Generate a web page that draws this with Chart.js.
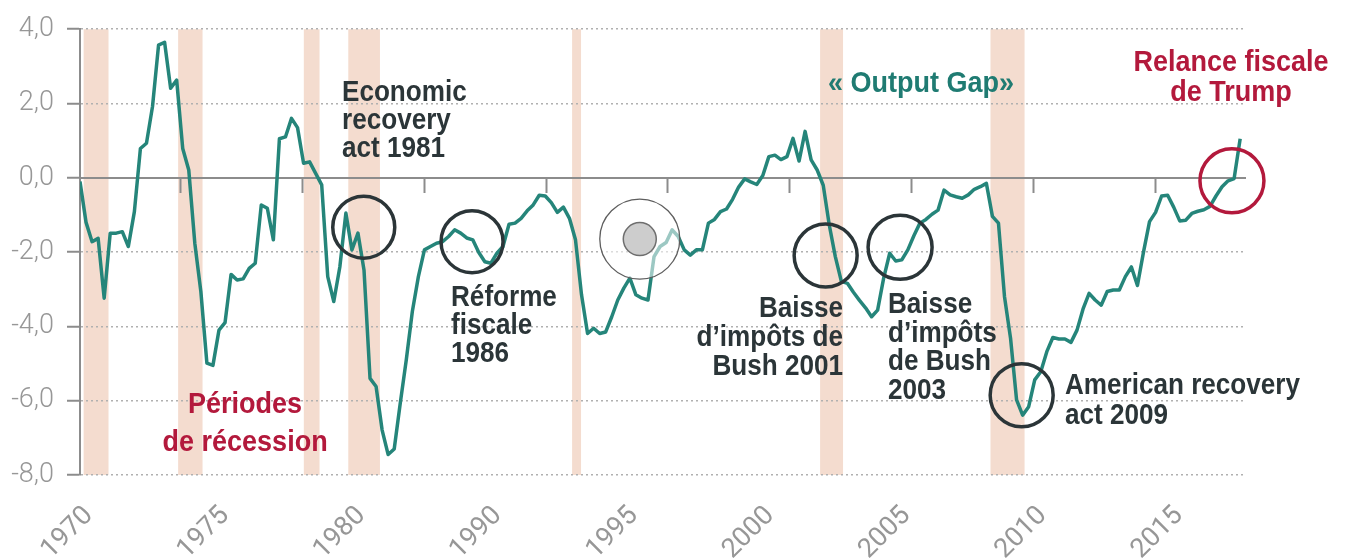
<!DOCTYPE html>
<html>
<head>
<meta charset="utf-8">
<script src="https://cdn.jsdelivr.net/npm/chart.js@4.4.1/dist/chart.umd.min.js"></script>
<style>
  html, body { margin: 0; padding: 0; background: #ffffff; }
  #wrap { width: 1352px; height: 560px; position: relative; }
</style>
</head>
<body>
<div id="wrap"><canvas id="c" width="1352" height="560"></canvas></div>
<script>
// ---- DATA -------------------------------------------------------------
// US output gap (% of potential GDP), quarterly, starting 1970 Q1
const START_YEAR = 1970;
const gap1970s = [-0.1, -1.2, -1.72, -1.63, -3.24, -1.49, -1.49, -1.45, -1.85, -0.91,
                  0.79, 0.93, 1.92, 3.57, 3.65, 2.41, 2.63, 0.79, 0.21, -1.76,
                  -3.06, -4.99, -5.05, -4.1, -3.9, -2.6, -2.75, -2.72, -2.44, -2.3,
                  -0.73, -0.82, -1.67, 1.05, 1.1, 1.6, 1.35, 0.39, 0.43, 0.12];
const gap1980s = [-0.19, -2.66, -3.33, -2.4, -0.95, -1.94, -1.49, -2.48, -5.4, -5.62,
                  -6.79, -7.45, -7.3, -6.07, -4.9, -3.6, -2.66, -1.94, -1.85, -1.76,
                  -1.72, -1.58, -1.4, -1.49, -1.62, -1.67, -2.01, -2.26, -2.3, -2.03,
                  -1.85, -1.25, -1.22, -1.09, -0.89, -0.73, -0.47, -0.49, -0.67, -0.93];
const gap1990s = [-0.79, -1.09, -1.67, -3.15, -4.19, -4.05, -4.19, -4.15, -3.74, -3.29,
                  -2.97, -2.7, -3.15, -3.24, -3.29, -2.12, -1.85, -1.74, -1.4, -1.58,
                  -1.94, -2.08, -1.94, -1.94, -1.22, -1.12, -0.91, -0.84, -0.58, -0.25,
                  -0.03, -0.11, -0.18, 0.06, 0.57, 0.61, 0.49, 0.57, 1.06, 0.45];
const gap2000s = [1.25, 0.48, 0.21, -0.2, -1.27, -2.12, -2.79, -2.84, -3.08, -3.3,
                  -3.5, -3.74, -3.56, -2.7, -2.03, -2.24, -2.21, -1.94, -1.56, -1.22,
                  -1.12, -0.98, -0.87, -0.33, -0.46, -0.51, -0.55, -0.46, -0.31, -0.24,
                  -0.15, -1.04, -1.22, -3.2, -4.32, -5.98, -6.39, -6.16, -5.44, -5.22];
const gap2010s = [-4.68, -4.3, -4.34, -4.34, -4.43, -4.1, -3.53, -3.11, -3.29, -3.43,
                  -3.06, -3.02, -3.02, -2.66, -2.4, -2.9, -2.0, -1.18, -0.93, -0.49,
                  -0.47, -0.79, -1.16, -1.14, -0.96, -0.9, -0.86, -0.77, -0.49, -0.24,
                  -0.08, -0.02, 1.05];

// Recession periods (shaded), in years
const recessionStart = [1970.15, 1974.06, 1979.26, 1981.10, 1990.36, 2000.62, 2007.67];
const recessionEnd   = [1971.18, 1975.07, 1979.91, 1982.41, 1990.73, 2001.57, 2009.08];

// Axis labels
const yTickValues = [4, 2, 0, -2, -4, -6, -8];
const xTickLabels = ['1970', '1975', '1980', '1990', '1995', '2000', '2005', '2010', '2015'];

// ---- BUILD ------------------------------------------------------------
const outputGap = [].concat(gap1970s, gap1980s, gap1990s, gap2000s, gap2010s);
const points = outputGap.map((v, i) => ({ x: START_YEAR + i / 4, y: v }));

const DARK = '#2b3538';
const RED = '#b3193c';
const TEAL = '#1f7b72';
const AXIS_GREY = '#8c8c8c';
const LABEL_GREY = '#979797';

const recessionPlugin = {
  id: 'recessions',
  beforeDraw(chart, args, opts) {
    const { ctx, chartArea, scales } = chart;
    const x = scales.x;
    ctx.save();
    ctx.fillStyle = opts.color;
    recessionStart.forEach((s, i) => {
      const x0 = x.getPixelForValue(s);
      const x1 = x.getPixelForValue(recessionEnd[i]);
      ctx.fillRect(x0, chartArea.top, x1 - x0, chartArea.bottom - chartArea.top);
    });
    ctx.restore();
  }
};

const notesPlugin = {
  id: 'notes',
  afterDatasetsDraw(chart, args, opts) {
    const { ctx, scales } = chart;
    const x = scales.x, y = scales.y;
    ctx.save();
    opts.circles.forEach(c => {
      const cx = x.getPixelForValue(c.at[0]);
      const cy = y.getPixelForValue(c.at[1]);
      if (c.target) {
        ctx.beginPath();
        ctx.arc(cx, cy, c.r, 0, Math.PI * 2);
        ctx.fillStyle = 'rgba(255,255,255,0.55)';
        ctx.fill();
        ctx.lineWidth = 1.3;
        ctx.strokeStyle = '#5e5e5e';
        ctx.stroke();
        ctx.beginPath();
        ctx.arc(cx, cy, c.inner, 0, Math.PI * 2);
        ctx.fillStyle = '#cdcdcd';
        ctx.fill();
        ctx.lineWidth = 1.5;
        ctx.strokeStyle = '#6e6e6e';
        ctx.stroke();
      } else {
        ctx.beginPath();
        ctx.arc(cx, cy, c.r, 0, Math.PI * 2);
        ctx.lineWidth = 3.5;
        ctx.strokeStyle = c.color;
        ctx.stroke();
      }
    });
    opts.texts.forEach(t => {
      const px = x.getPixelForValue(t.at[0]);
      const py = y.getPixelForValue(t.at[1]);
      ctx.save();
      ctx.translate(px, py);
      ctx.scale(0.9, 1);
      ctx.font = 'bold ' + t.size + 'px "Liberation Sans", Arial, sans-serif';
      ctx.fillStyle = t.color;
      ctx.textAlign = t.align;
      ctx.textBaseline = 'alphabetic';
      t.lines.forEach((line, k) => ctx.fillText(line, 0, k * t.lh));
      ctx.restore();
    });
    ctx.restore();
  }
};

const labelFont = { family: 'Roboto', weight: '400', size: 27 };

new Chart(document.getElementById('c'), {
  type: 'line',
  data: {
    datasets: [{
      data: points,
      borderColor: '#25857a',
      borderWidth: 3.5,
      pointRadius: 0,
      tension: 0,
      borderJoinStyle: 'round',
      fill: false
    }]
  },
  options: {
    responsive: false,
    animation: false,
    devicePixelRatio: 1,
    layout: { padding: { left: 0, right: 107, top: 28, bottom: 0 } },
    plugins: {
      legend: { display: false },
      tooltip: { enabled: false },
      recessions: { color: '#f4dccf' },
      notes: {
        circles: [
          { at: [1981.74, -1.33], r: 31, color: DARK },
          { at: [1986.22, -1.72], r: 31, color: DARK },
          { at: [1993.16, -1.65], r: 40, inner: 16.5, target: true },
          { at: [2000.85, -2.09], r: 31.5, color: DARK },
          { at: [2003.93, -1.87], r: 32, color: DARK },
          { at: [2008.96, -5.85], r: 31.5, color: DARK },
          { at: [2017.66, -0.08], r: 32, color: RED }
        ],
        texts: [
          { at: [1980.84, 2.07], lines: ['Economic', 'recovery', 'act 1981'], align: 'left', color: DARK, size: 29, lh: 28 },
          { at: [1985.35, -3.44], lines: ['Réforme', 'fiscale', '1986'], align: 'left', color: DARK, size: 29, lh: 28 },
          { at: [2001.57, -3.75], lines: ['Baisse', 'd\u2019impôts de', 'Bush 2001'], align: 'right', color: DARK, size: 29, lh: 29 },
          { at: [2003.43, -3.65], lines: ['Baisse', 'd\u2019impôts', 'de Bush', '2003'], align: 'left', color: DARK, size: 29, lh: 28.5 },
          { at: [2010.75, -5.81], lines: ['American recovery', 'act 2009'], align: 'left', color: DARK, size: 29, lh: 30 },
          { at: [2000.95, 2.31], lines: ['« Output Gap»'], align: 'left', color: TEAL, size: 30, lh: 30 },
          { at: [2017.62, 2.87], lines: ['Relance fiscale', 'de Trump'], align: 'center', color: RED, size: 30, lh: 30 },
          { at: [1976.83, -6.33], lines: ['Périodes', 'de récession'], align: 'center', color: RED, size: 30, lh: 38 }
        ]
      }
    },
    scales: {
      x: {
        type: 'linear',
        display: false,
        min: 1970,
        max: 2018.2
      },
      xLabels: {
        type: 'linear',
        position: 'bottom',
        min: -0.066,
        max: 8.484,
        afterBuildTicks: s => { s.ticks = xTickLabels.map((_, i) => ({ value: i })); },
        afterFit: s => { s.height = 85; },
        ticks: {
          autoSkip: false,
          minRotation: 45,
          maxRotation: 45,
          padding: 25,
          color: LABEL_GREY,
          font: labelFont,
          callback: (v, i) => xTickLabels[i]
        },
        grid: { display: false, drawTicks: false },
        border: { display: false }
      },
      xTicks: {
        type: 'linear',
        position: { y: 0 },
        min: -0.82,
        max: 8.73,
        afterBuildTicks: s => { s.ticks = xTickLabels.map((_, i) => ({ value: i })); },
        ticks: { display: false },
        grid: { drawOnChartArea: false, drawTicks: true, tickLength: 14, tickColor: AXIS_GREY, tickWidth: 2 },
        border: { display: true, color: AXIS_GREY, width: 2 }
      },
      y: {
        type: 'linear',
        min: -8,
        max: 4,
        afterBuildTicks: s => { s.ticks = yTickValues.map(v => ({ value: v })); },
        afterFit: s => { s.width = 80; },
        ticks: {
          padding: 13,
          color: LABEL_GREY,
          font: { family: 'Roboto', weight: '300', size: 27 },
          callback: v => v.toFixed(1).replace('.', ',')
        },
        grid: {
          color: c => (c.tick && c.tick.value === 0) ? 'rgba(0,0,0,0)' : '#b0b0b0',
          lineWidth: 1.5,
          drawTicks: true,
          tickLength: 13,
          tickColor: AXIS_GREY,
          tickWidth: 2
        },
        border: { display: true, color: AXIS_GREY, width: 2, dash: [2, 3] }
      }
    }
  },
  plugins: [recessionPlugin, notesPlugin]
});
</script>
</body>
</html>
